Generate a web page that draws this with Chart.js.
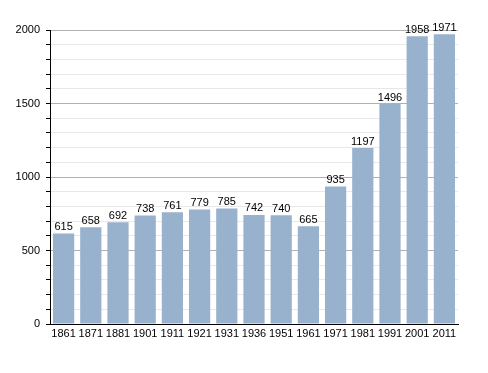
<!DOCTYPE html>
<html>
<head>
<meta charset="utf-8">
<script src="https://cdn.jsdelivr.net/npm/chart.js@4"></script>
<style>
  html, body { margin: 0; padding: 0; background: #fff; }
  #wrap { width: 488px; height: 373px; }
</style>
</head>
<body>
<div id="wrap"><canvas id="chart" width="488" height="373"></canvas></div>
<script>
const years = ["1861", "1871", "1881", "1901", "1911", "1921", "1931", "1936", "1951", "1961", "1971", "1981", "1991", "2001", "2011"];
const population = [615, 658, 692, 738, 761, 779, 785, 742, 740, 665, 935, 1197, 1496, 1958, 1971];
const yMax = 2000;
const yStep = 100;
const yMajor = 500;

// write the value above each bar
const valueLabels = {
  id: "valueLabels",
  afterDatasetsDraw(chart) {
    const ctx = chart.ctx;
    const meta = chart.getDatasetMeta(0);
    ctx.save();
    ctx.font = "11px 'Liberation Sans', Arial, sans-serif";
    ctx.fillStyle = "#000";
    ctx.textAlign = "center";
    ctx.textBaseline = "bottom";
    meta.data.forEach((bar, i) => {
      ctx.fillText(population[i], bar.x, bar.y - 1);
    });
    ctx.restore();
  }
};

new Chart(document.getElementById("chart"), {
  type: "bar",
  data: {
    labels: years,
    datasets: [{
      data: population,
      backgroundColor: "#98b1cd",
      borderWidth: 0,
      barPercentage: 0.78,
      categoryPercentage: 1
    }]
  },
  options: {
    responsive: false,
    animation: false,
    layout: { padding: { top: 30, right: 30, left: 0, bottom: 0 } },
    plugins: { legend: { display: false }, tooltip: { enabled: false } },
    scales: {
      x: {
        grid: { display: false, drawTicks: false },
        border: { color: "#000", width: 1 },
        ticks: {
          color: "#000",
          font: { family: "'Liberation Sans', Arial, sans-serif", size: 11 },
          padding: 3,
          maxRotation: 0,
          autoSkip: false
        },
        afterFit(scale) { scale.height = 49; }
      },
      y: {
        min: 0,
        max: yMax,
        border: { color: "#000", width: 1 },
        grid: {
          color: c => (c.tick.value % yMajor === 0 ? "#b0b0b0" : "#e8e8e8"),
          tickColor: "#000",
          tickLength: 4
        },
        ticks: {
          stepSize: yStep,
          autoSkip: false,
          color: "#000",
          padding: 6,
          font: { family: "'Liberation Sans', Arial, sans-serif", size: 11 },
          callback: v => (v % yMajor === 0 ? v : "")
        },
        afterFit(scale) { scale.width = 50; }
      }
    }
  },
  plugins: [valueLabels]
});
</script>
</body>
</html>
